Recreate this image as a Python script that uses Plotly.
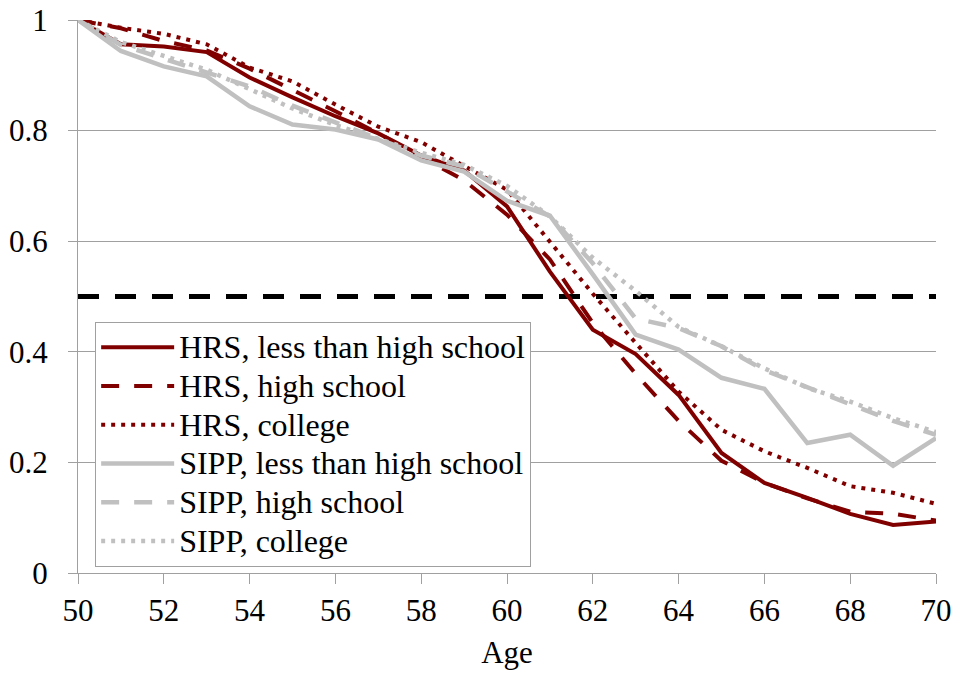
import plotly.graph_objects as go

ages = list(range(50, 71))

hrs_less_hs = [1.0, 0.956, 0.952, 0.942, 0.896, 0.86, 0.826, 0.795, 0.755, 0.728, 0.663,
               0.545, 0.44, 0.396, 0.322, 0.217, 0.163, 0.136, 0.107, 0.087, 0.093]
hrs_hs = [1.0, 0.985, 0.962, 0.945, 0.912, 0.874, 0.835, 0.795, 0.752, 0.71, 0.648,
          0.567, 0.452, 0.36, 0.275, 0.203, 0.163, 0.135, 0.111, 0.107, 0.095]
hrs_college = [1.0, 0.986, 0.975, 0.956, 0.914, 0.889, 0.847, 0.807, 0.779, 0.737, 0.693,
               0.599, 0.505, 0.416, 0.328, 0.259, 0.22, 0.19, 0.157, 0.145, 0.125]
sipp_less_hs = [1.0, 0.944, 0.916, 0.898, 0.844, 0.811, 0.802, 0.784, 0.746, 0.726, 0.673,
                0.646, 0.54, 0.431, 0.404, 0.353, 0.333, 0.235, 0.25, 0.194, 0.244]
sipp_hs = [1.0, 0.955, 0.93, 0.905, 0.88, 0.845, 0.815, 0.785, 0.755, 0.735, 0.69,
           0.645, 0.56, 0.46, 0.443, 0.41, 0.367, 0.335, 0.305, 0.275, 0.25]
sipp_college = [1.0, 0.96, 0.935, 0.91, 0.875, 0.84, 0.81, 0.785, 0.76, 0.738, 0.7,
                0.645, 0.57, 0.51, 0.445, 0.41, 0.37, 0.335, 0.31, 0.28, 0.255]

threshold_x = [50, 70]
threshold_y = [0.5, 0.5]

series_names = ["HRS, less than high school", "HRS, high school", "HRS, college",
                "SIPP, less than high school", "SIPP, high school", "SIPP, college"]

series = [
    (series_names[0], hrs_less_hs, "#800000", "solid", 4),
    (series_names[1], hrs_hs, "#800000", "18px,15px", 4),
    (series_names[2], hrs_college, "#800000", "4px,6px", 4),
    (series_names[3], sipp_less_hs, "#c0c0c0", "solid", 4.5),
    (series_names[4], sipp_hs, "#c0c0c0", "18px,15px", 4.5),
    (series_names[5], sipp_college, "#c0c0c0", "4px,6px", 4.5),
]

fig = go.Figure()
fig.add_trace(go.Scatter(x=threshold_x, y=threshold_y, mode="lines",
                         line=dict(color="black", width=5, dash="21px,16px"),
                         showlegend=False, hoverinfo="skip"))
for name, vals, color, dash, w in series:
    fig.add_trace(go.Scatter(x=ages, y=vals, mode="lines",
                             name='<span style="font-size:32px">' + name + '</span>',
                             line=dict(color=color, width=w, dash=dash)))

font_family = "Times New Roman, Liberation Serif, DejaVu Serif, serif"
axis_gray = "#a0a0a0"

fig.update_layout(
    width=953, height=673,
    margin=dict(l=78, r=17, t=20, b=100),
    paper_bgcolor="white", plot_bgcolor="white",
    font=dict(family=font_family, size=31, color="black"),
    legend=dict(x=0.02, y=0.011, xanchor="left", yanchor="bottom",
                bgcolor="white", bordercolor=axis_gray, borderwidth=1,
                font=dict(family=font_family, size=27.5, color="black"),
                itemwidth=73, tracegroupgap=0),
    xaxis=dict(range=[50, 70], dtick=2, tick0=50, showgrid=False, zeroline=False,
               showline=True, linecolor=axis_gray, linewidth=1,
               ticks="outside", ticklen=10, tickcolor=axis_gray,
               tickfont=dict(family=font_family, size=31), automargin=False,
               title=dict(text="Age", font=dict(family=font_family, size=31), standoff=14)),
    yaxis=dict(range=[0, 1], dtick=0.2, tick0=0, showgrid=True, gridcolor=axis_gray,
               gridwidth=1, zeroline=False, showline=True, linecolor=axis_gray,
               linewidth=1, ticks="outside", ticklen=9, tickcolor=axis_gray,
               tickfont=dict(family=font_family, size=31), ticklabelstandoff=14,
               automargin=False),
)

fig.write_html("out.html", config={"displayModeBar": False},
               post_script="document.body.style.margin='0';")
